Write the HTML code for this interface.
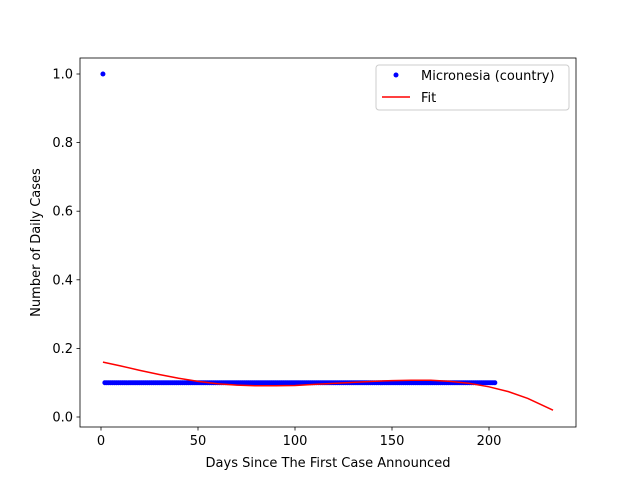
<!DOCTYPE html>
<html><head><meta charset="utf-8"><style>
body{margin:0;background:#fff}
svg text{font-family:"DejaVu Sans","Liberation Sans",sans-serif;font-size:13px;fill:#000}
</style></head><body>
<svg id="chart" width="640" height="480">
<rect x="0" y="0" width="640" height="480" fill="#fff"></rect>
<g id="marks"></g>
<g id="axes"></g>
</svg>
<script>
const dataX = [1];
const dataY = [1.0];
for (let d = 2; d <= 203; d++) { dataX.push(d); dataY.push(0.1); }
const fitX = [1,10,20,30,40,50,60,70,80,90,100,110,120,130,140,150,160,170,180,190,200,210,220,233];
const fitY = [0.160,0.149,0.136,0.124,0.113,0.104,0.097,0.093,0.091,0.091,0.092,0.095,0.098,0.101,0.104,0.106,0.107,0.107,0.104,0.098,0.088,0.074,0.054,0.020];
const xTicks = [0,50,100,150,200];
const yTicks = [0.0,0.2,0.4,0.6,0.8,1.0];

const L=80,R=576,T=58,B=427;
function sx(v){return 101+(v-0)*1.94;}
function sy(v){return 417-v*343;}
const NS="http://www.w3.org/2000/svg";
const marks=document.getElementById('marks'), axes=document.getElementById('axes');
function mk(tag,attrs,parent){const e=document.createElementNS(NS,tag);for(const k in attrs)e.setAttribute(k,attrs[k]);parent.appendChild(e);return e;}

for(let i=0;i<dataX.length;i++){
  const c=mk('circle',{cx:sx(dataX[i]),cy:sy(dataY[i]),r:2.5,fill:'#0000ff'},marks);
  
  
}
const pts=fitX.map((x,i)=>sx(x)+','+sy(fitY[i])).join(' ');
const fl=mk('polyline',{points:pts,fill:'none',stroke:'#ff0000','stroke-width':1.5},marks);



const frame=mk('rect',{x:L,y:T,width:R-L,height:B-T,fill:'none',stroke:'#000','stroke-width':0.8},axes);


xTicks.forEach(t=>{
  const x=sx(t);
  mk('line',{x1:x,x2:x,y1:B,y2:B+3.5,stroke:'#000','stroke-width':0.8},axes);
  const tx=mk('text',{x:x,y:B+18,'text-anchor':'middle'},axes);tx.textContent=t;
  
  
});
yTicks.forEach(t=>{
  const y=sy(t);
  mk('line',{x1:L,x2:L-3.5,y1:y,y2:y,stroke:'#000','stroke-width':0.8},axes);
  const tx=mk('text',{x:L-7,y:y+4.5,'text-anchor':'end'},axes);tx.textContent=t.toFixed(1);
  
  
});
const xl=mk('text',{x:(L+R)/2,y:467,'text-anchor':'middle'},axes);xl.textContent='Days Since The First Case Announced';


const yl=mk('text',{x:0,y:0,'text-anchor':'middle',transform:'translate(40,'+((T+B)/2)+') rotate(-90)'},axes);yl.textContent='Number of Daily Cases';



const lg=mk('g',{},axes);


mk('rect',{x:376,y:65,width:193,height:45,rx:3,fill:'#fff',stroke:'#ccc','stroke-width':1},lg);
mk('circle',{cx:396,cy:75,r:2.5,fill:'#0000ff'},lg);
const l1=mk('text',{x:421,y:80},lg);l1.textContent='Micronesia (country)';


mk('line',{x1:382,x2:410,y1:97,y2:97,stroke:'#ff0000','stroke-width':1.5},lg);
const l2=mk('text',{x:421,y:102},lg);l2.textContent='Fit';


</script>
</body></html>
